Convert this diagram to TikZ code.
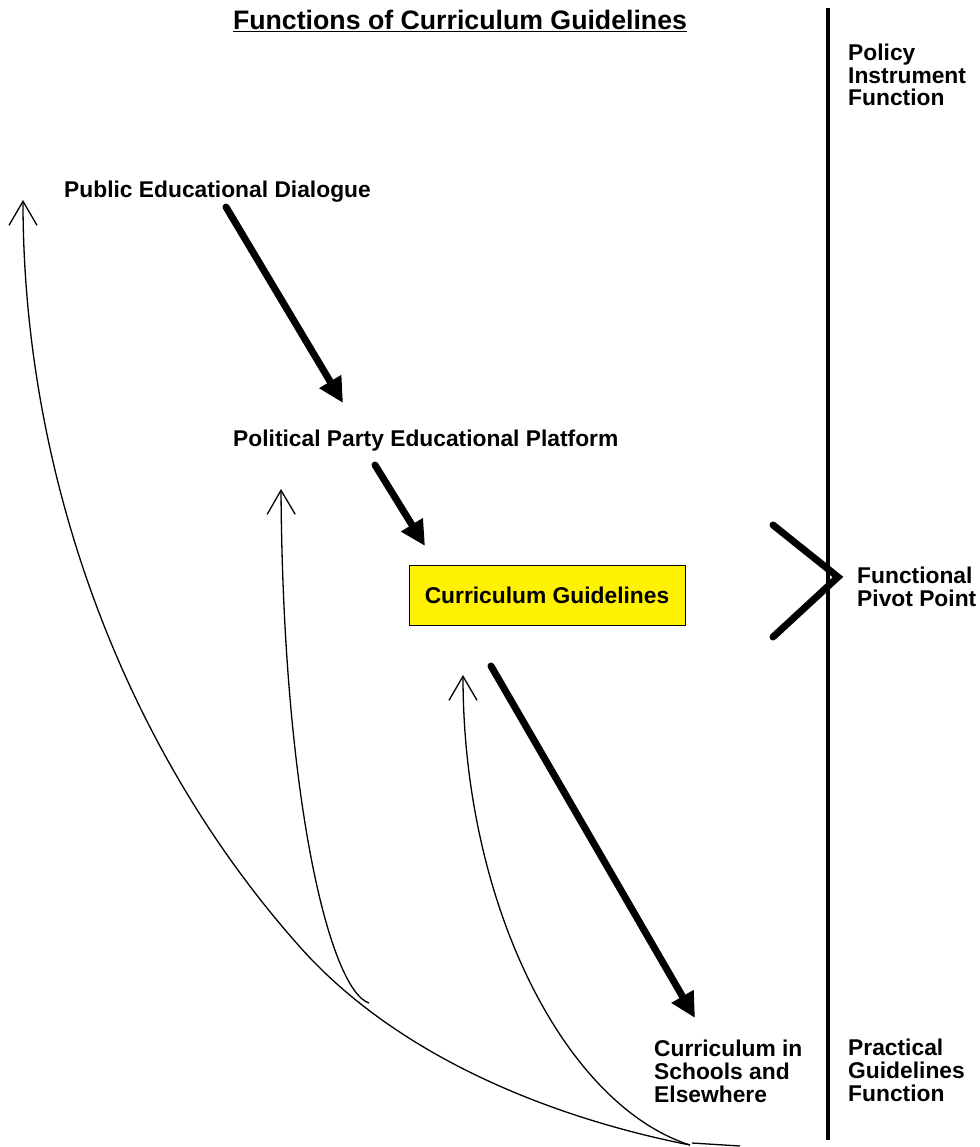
\documentclass[tikz,border=0pt]{standalone}
\usepackage{fontspec}
\setmainfont{Liberation Sans}
\usetikzlibrary{arrows.meta}
\begin{document}
\begin{tikzpicture}[x=1pt,y=-1pt,
  lbl/.style={font=\fontsize{22.8}{22.7}\selectfont\bfseries, inner sep=0pt, align=left, anchor=base west},
  bigarrow/.style={line width=7pt, line cap=round, -{Triangle[length=25pt,width=24pt]}},
  feedback/.style={line width=1.3pt, -{Straight Barb[length=24pt,width=28pt]}},
  axis/.style={line width=4.5pt},
]
\useasboundingbox (0,0) rectangle (979,1147);
% title
\node[font=\fontsize{26.7}{28}\selectfont\bfseries, inner sep=0pt, anchor=base] (title) at (460,30) {\underline{Functions of Curriculum Guidelines}};
% vertical axis
\coordinate (axtop) at (828,8);
\coordinate (axbot) at (828,1140);
\draw[axis] (axtop) -- (axbot);
% side labels (anchor = baseline of last line)
\node[lbl] (pif) at (848,106) {Policy\\Instrument\\Function};
\node[lbl] (fpp) at (857,606) {Functional\\Pivot Point};
\node[lbl] (pgf) at (848,1101) {Practical\\Guidelines\\Function};
% chevron
\coordinate (chA) at (773,525);
\coordinate (chT) at (838,577);
\coordinate (chB) at (773,637);
\draw[line width=7pt, line cap=round] (chA) -- (chT) -- (chB);
% main labels
\node[lbl] (pub) at (64,198) {Public Educational Dialogue};
\node[lbl] (pol) at (233,446) {Political Party Educational Platform};
\node[draw=black, line width=1pt, fill=yellow, minimum width=276pt, minimum height=60pt, inner sep=0pt,
      font=\fontsize{22.8}{22.7}\selectfont\bfseries] (cg) at (547,595) {Curriculum Guidelines};
\node[lbl] (cse) at (654,1102) {Curriculum in\\Schools and\\Elsewhere};
% thick arrows
\coordinate (a1s) at (226,207); \coordinate (a1e) at (343,403);
\coordinate (a2s) at (375,465); \coordinate (a2e) at (425,546);
\coordinate (a3s) at (491,666); \coordinate (a3e) at (695,1018);
\draw[bigarrow] (a1s) -- (a1e);
\draw[bigarrow] (a2s) -- (a2e);
\draw[bigarrow] (a3s) -- (a3e);
% feedback curves
\coordinate (bot) at (690,1145);
\coordinate (mid) at (300,947);
\coordinate (hook) at (369,1003);
\coordinate (tipPub) at (23,200);
\coordinate (tipPol) at (281,489);
\coordinate (tipCG) at (463,675);
\draw[feedback] (bot) .. controls (548,1117) and (396,1055) .. (mid)
                      .. controls (120,745) and (23,470) .. (tipPub);
\draw[feedback] (hook) .. controls (330,990) and (283,800) .. (tipPol);
\draw[feedback] (bot) .. controls (565,1105) and (463,905) .. (tipCG);
\draw[line width=1.3pt] (692,1143) -- (740,1146);
\end{tikzpicture}
\end{document}
